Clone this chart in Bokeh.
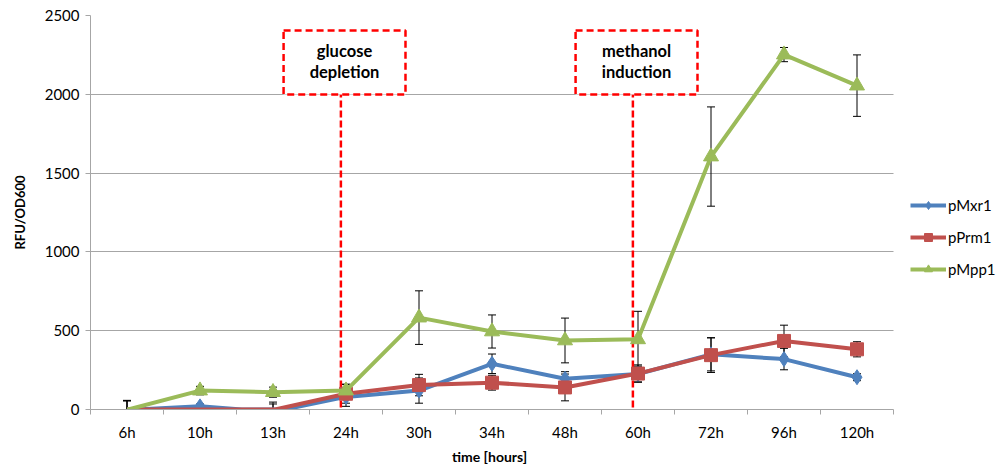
from bokeh.plotting import figure
from bokeh.models import (Range1d, FixedTicker, Whisker, ColumnDataSource, TeeHead,
                          Legend, LegendItem, CDSView, BooleanFilter, Grid, Title)
from bokeh.core.properties import value
from bokeh.embed import file_html
from bokeh.resources import INLINE

# Sampling times
categories = ["6h", "10h", "13h", "24h", "30h", "34h", "48h", "60h", "72h", "96h", "120h"]

# Mean RFU/OD600 per promoter and standard deviations
mxr1 = [-3, 20, -15, 80, 120, 290, 195, 225, 350, 320, 205]
mxr1_err = [58, 15, 50, 60, 80, 62, 45, 50, 105, 68, 22]
prm1 = [-10, -10, -3, 100, 155, 170, 140, 228, 345, 435, 382]
prm1_err = [65, 15, 50, 60, 68, 47, 85, 55, 110, 100, 48]
mpp1 = [-2, 120, 110, 120, 583, 495, 438, 445, 1605, 2252, 2055]
mpp1_err = [60, 27, 32, 40, 170, 105, 142, 178, 315, 45, 195]

series_names = ["pMxr1", "pPrm1", "pMpp1"]
series_colors = ["#4F81BD", "#C0504D", "#9BBB59"]
series_markers = ["diamond", "square", "triangle"]
series_sizes = [15, 13, 15]

# Process events: label lines, sampling point they follow
event_labels = [["glucose", "depletion"], ["methanol", "induction"]]
event_at = ["24h", "60h"]

x_title = "time [hours]"
y_title = "RFU/OD600"

Y_MIN, Y_MAX = 0, 2500
FONT = "Lato"
GRID = "#A6A6A6"

W, H = 1001, 468
LEFT, TOP, BOTTOM = 90, 15, 59
PLOT_W = 803                       # width of the gridded area in pixels
n = len(categories)
xs = list(range(n))
# the frame runs to the right edge so the legend can sit beside the gridded area
x_end = -0.5 + n * (W - LEFT) / PLOT_W


def clamped_path(x, y, lo):
    """Line path that runs along the lower axis limit where values drop below it."""
    px, py = [], []
    for i in range(len(x)):
        if i > 0:
            y0, y1 = y[i - 1], y[i]
            if (y0 - lo) * (y1 - lo) < 0:
                t = (lo - y0) / (y1 - y0)
                px.append(x[i - 1] + t * (x[i] - x[i - 1]))
                py.append(lo)
        px.append(x[i])
        py.append(max(y[i], lo))
    return px, py


p = figure(width=W, height=H, output_backend="svg", toolbar_location=None,
           x_range=Range1d(-0.5, x_end), y_range=Range1d(Y_MIN, Y_MAX),
           min_border_left=LEFT, min_border_right=0, min_border_top=TOP,
           min_border_bottom=BOTTOM)
p.outline_line_color = None
p.background_fill_color = "white"
p.border_fill_color = "white"

# x axis: labels at category centres, tick marks on category boundaries
p.xaxis.ticker = FixedTicker(ticks=xs, minor_ticks=[i - 0.5 for i in range(n + 1)])
p.xaxis.bounds = (-0.5, n - 0.5)
p.xaxis.major_label_overrides = {i: c for i, c in enumerate(categories)}
p.xaxis.major_tick_line_color = None
p.xaxis.major_tick_out = 5
p.xaxis.minor_tick_line_color = GRID
p.xaxis.minor_tick_out = 5
p.xaxis.minor_tick_in = 0
p.xaxis.axis_line_color = GRID
p.xaxis.major_label_standoff = 8
p.xgrid.grid_line_color = None

# x-axis title, centred under the gridded area
p.add_layout(Title(text=x_title, align="left", offset=PLOT_W / 2 - 40, standoff=5,
                   text_font=FONT, text_font_style="bold", text_font_size="14px",
                   text_color="#000000"), "below")

p.yaxis.ticker = FixedTicker(ticks=[0, 500, 1000, 1500, 2000, 2500])
p.yaxis.minor_tick_line_color = None
p.yaxis.major_tick_line_color = GRID
p.yaxis.major_tick_out = 5
p.yaxis.major_tick_in = 0
p.yaxis.axis_line_color = GRID
p.yaxis.major_label_standoff = 6
p.yaxis.axis_label = y_title
p.yaxis.axis_label_standoff = 14
p.ygrid.grid_line_color = GRID
p.ygrid.grid_line_width = 1
if "cross_bounds" in Grid.properties():
    p.ygrid.cross_bounds = (-0.5, n - 0.5)
else:
    # keep the horizontal grid inside the category area
    p.quad(left=[n - 0.5], right=[x_end], bottom=[Y_MIN], top=[Y_MAX],
           fill_color="white", line_color=None, level="underlay")

for ax in (p.xaxis, p.yaxis):
    ax.major_label_text_font = FONT
    ax.major_label_text_font_size = "15px"
    ax.major_label_text_color = "#000000"
    ax.axis_label_text_font = FONT
    ax.axis_label_text_font_style = "bold"
    ax.axis_label_text_color = "#000000"
p.yaxis.axis_label_text_font_size = "13px"

# Event markers: dashed vertical line and a dashed label box
for lines, cat in zip(event_labels, event_at):
    cx = categories.index(cat)
    p.segment(x0=[cx - 0.07], y0=[-50], x1=[cx - 0.07], y1=[2000],
              line_color="#FF0000", line_width=2.5, line_dash="7 3")
    p.rect(x=[cx - 0.02], y=[2202], width=1.67, height=405,
           fill_color="white", line_color="#FF0000", line_width=2.5, line_dash="7 4")
    p.text(x=[cx - 0.02] * 2, y=[2277, 2139], text=lines, text_align="center",
           text_baseline="middle", text_font=value(FONT), text_font_style="bold",
           text_font_size="16.5px", text_color="#000000")

items = []
data = [(mxr1, mxr1_err), (prm1, prm1_err), (mpp1, mpp1_err)]
for (vals, errs), name, color, marker, size in zip(data, series_names, series_colors,
                                                     series_markers, series_sizes):
    src = ColumnDataSource(dict(
        x=xs, y=vals,
        upper=[v + e for v, e in zip(vals, errs)],
        lower=[v - e for v, e in zip(vals, errs)],
    ))
    w = Whisker(source=src, base="x", upper="upper", lower="lower",
                line_color="black", line_width=1, level="underlay",
                upper_head=TeeHead(size=8, line_color="black", line_width=1),
                lower_head=TeeHead(size=8, line_color="black", line_width=1))
    p.add_layout(w)
    lx, ly = clamped_path(xs, vals, Y_MIN)
    lr = p.line(lx, ly, line_color=color, line_width=4)
    # points below the axis minimum are not marked
    view = CDSView(filter=BooleanFilter([v >= Y_MIN for v in vals]))
    sr = p.scatter("x", "y", source=src, view=view, marker=marker, size=size,
                   fill_color=color, line_color=color)
    items.append(LegendItem(label=name, renderers=[lr, sr]))

legend = Legend(items=items, location=(820, 130), orientation="vertical",
                glyph_width=36, glyph_height=20, label_height=20, spacing=12,
                label_standoff=2, padding=0, margin=0,
                border_line_color=None, background_fill_alpha=0,
                label_text_font=FONT, label_text_font_size="15px",
                label_text_color="#000000")
p.add_layout(legend)

open("out.html", "w").write(file_html(p, INLINE))
